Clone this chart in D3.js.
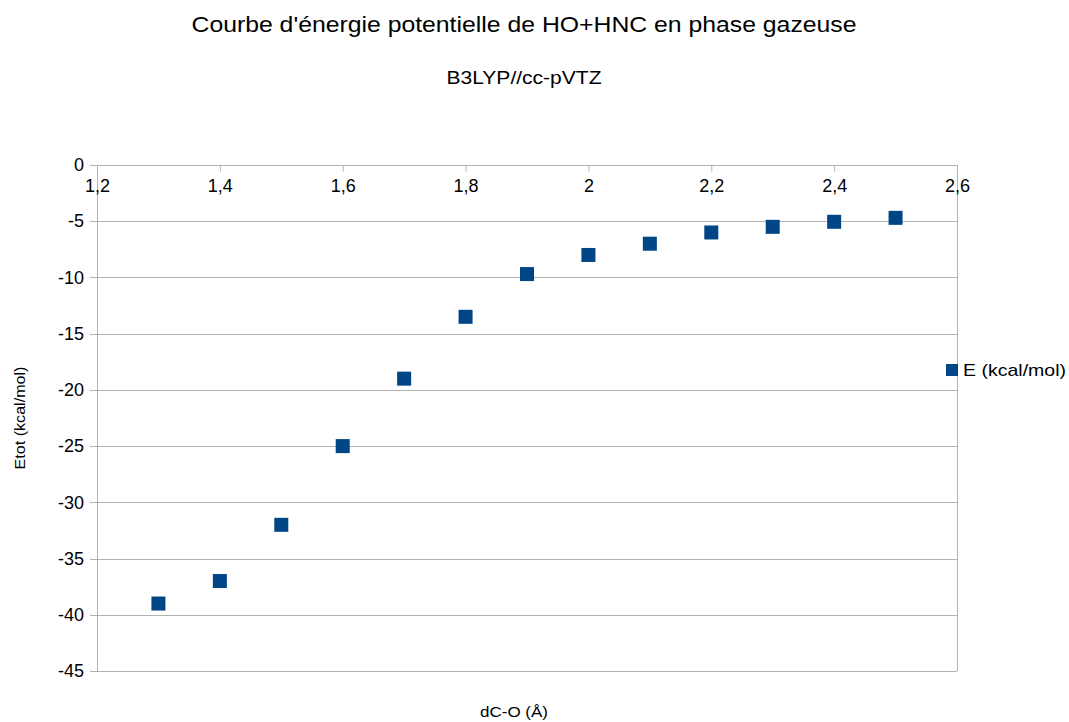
<!DOCTYPE html>
<html lang="fr">
<head>
<meta charset="UTF-8">
<title>Courbe d'énergie potentielle</title>
<style>
body { margin: 0; background: #fff; }
svg { font-family: "Liberation Sans", Arial, sans-serif; }
.grid line { stroke: #b3b3b3; stroke-width: 1; }
.axis .domain { display: none; }
.axis text { font-size: 18px; fill: #000; }
.axis line { stroke: #b3b3b3; }
</style>
</head>
<body>
<svg width="1069" height="722"></svg>
<script src="https://cdn.jsdelivr.net/npm/d3@7/dist/d3.min.js"></script>
<script>

var distances = [1.3, 1.4, 1.5, 1.6, 1.7, 1.8, 1.9, 2.0, 2.1, 2.2, 2.3, 2.4, 2.5];
var energies = [-39, -37, -32, -25, -19, -13.5, -9.7, -8, -7, -6, -5.5, -5.05, -4.7];
var xTicks = [1.2, 1.4, 1.6, 1.8, 2.0, 2.2, 2.4, 2.6];
var yTicks = [0, -5, -10, -15, -20, -25, -30, -35, -40, -45];

var svg = d3.select("svg"),
    margin = {top: 165, right: 112, bottom: 51, left: 97},
    width = +svg.attr("width") - margin.left - margin.right,
    height = +svg.attr("height") - margin.top - margin.bottom,
    g = svg.append("g").attr("transform", "translate(" + margin.left + "," + margin.top + ")");

var x = d3.scaleLinear().domain([1.2, 2.6]).range([0, width]);
var y = d3.scaleLinear().domain([-45, 0]).range([height, 0]);
var color = "#004586";
// comma decimals, plain hyphen for minus
var fmt = function(d) { return String(+d.toFixed(2)).replace(".", ","); };

// horizontal grid
g.append("g")
    .attr("class", "grid")
  .selectAll("line")
  .data(yTicks)
  .enter().append("line")
    .attr("x1", -7)
    .attr("x2", width)
    .attr("y1", function(d) { return Math.round(y(d)) + 0.5; })
    .attr("y2", function(d) { return Math.round(y(d)) + 0.5; });

// vertical borders
g.append("g")
    .attr("class", "grid")
  .selectAll("line")
  .data([1.2, 2.6])
  .enter().append("line")
    .attr("x1", function(d) { return Math.round(x(d)) + 0.5; })
    .attr("x2", function(d) { return Math.round(x(d)) + 0.5; })
    .attr("y1", 0)
    .attr("y2", height);

// y axis labels
g.append("g")
    .attr("class", "axis")
    .call(d3.axisLeft(y).tickValues(yTicks).tickSize(0).tickPadding(13).tickFormat(fmt));

// x axis along 0
g.append("g")
    .attr("class", "axis")
    .attr("transform", "translate(0," + (Math.round(y(0)) + 0.5) + ")")
    .call(d3.axisBottom(x).tickValues(xTicks).tickSize(6).tickPadding(8).tickFormat(fmt));

// points
g.append("g")
  .selectAll("rect")
  .data(distances)
  .enter().append("rect")
    .attr("x", function(d) { return x(d) - 7; })
    .attr("y", function(d, i) { return y(energies[i]) - 7; })
    .attr("width", 14)
    .attr("height", 14)
    .attr("fill", color);

// titles (text in the original is a bit wider than Liberation Sans)
svg.append("text")
    .attr("x", 524)
    .attr("y", 32)
    .attr("text-anchor", "middle")
    .attr("font-size", 22)
    .attr("textLength", 665)
    .attr("lengthAdjust", "spacingAndGlyphs")
    .text("Courbe d'énergie potentielle de HO+HNC en phase gazeuse");

svg.append("text")
    .attr("x", 524)
    .attr("y", 84)
    .attr("text-anchor", "middle")
    .attr("font-size", 18)
    .attr("textLength", 155)
    .attr("lengthAdjust", "spacingAndGlyphs")
    .text("B3LYP//cc-pVTZ");

svg.append("text")
    .attr("x", 514)
    .attr("y", 717)
    .attr("text-anchor", "middle")
    .attr("font-size", 15)
    .attr("textLength", 68)
    .attr("lengthAdjust", "spacingAndGlyphs")
    .text("dC-O (Å)");

svg.append("text")
    .attr("transform", "translate(25,418) rotate(-90)")
    .attr("text-anchor", "middle")
    .attr("font-size", 15)
    .attr("textLength", 103)
    .attr("lengthAdjust", "spacingAndGlyphs")
    .text("Etot (kcal/mol)");

// legend
var legend = svg.append("g").attr("transform", "translate(946,370)");
legend.append("rect")
    .attr("x", 0)
    .attr("y", -6)
    .attr("width", 12)
    .attr("height", 12)
    .attr("fill", color);
legend.append("text")
    .attr("x", 17)
    .attr("y", 6)
    .attr("font-size", 17)
    .attr("textLength", 103)
    .attr("lengthAdjust", "spacingAndGlyphs")
    .text("E (kcal/mol)");

</script>
</body>
</html>
